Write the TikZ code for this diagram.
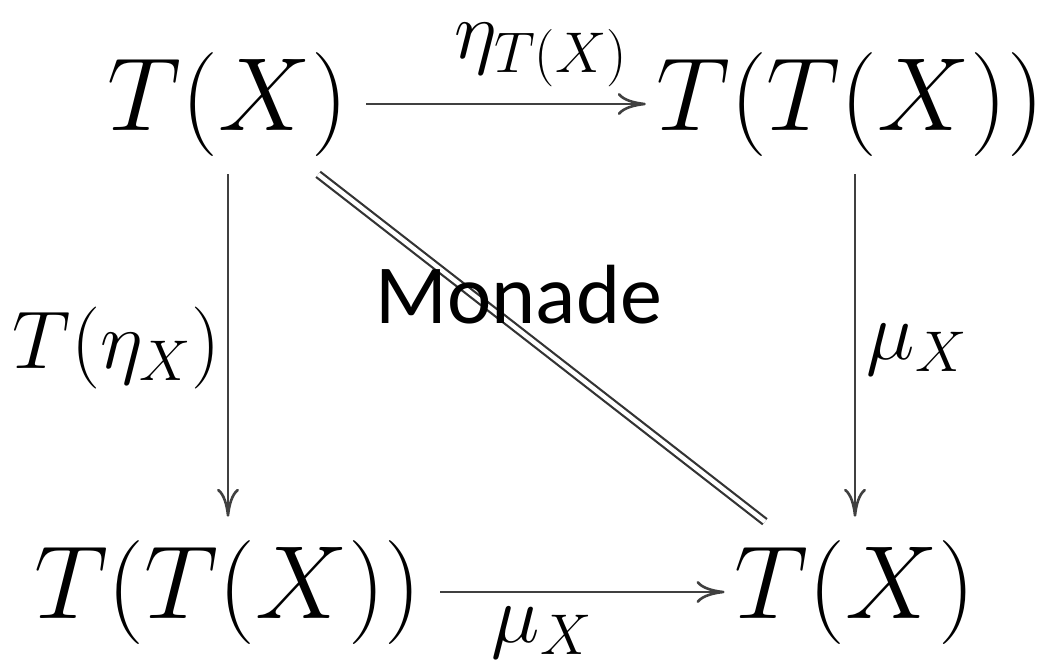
\RequirePackage{fix-cm}
\documentclass[tikz,border=0pt]{standalone}
\usepackage{fontspec}
\newfontfamily\monadefont{Carlito}
\usetikzlibrary{arrows.meta}

\begin{document}
\begin{tikzpicture}[x=0.5pt,y=-0.5pt,
    obj/.style={inner sep=9pt,anchor=base,font=\fontsize{52}{62}\selectfont},
    lbl/.style={inner sep=0pt,anchor=base,font=\fontsize{41}{49}\selectfont},
    map/.style={-{To[length=14pt,width=11pt]},draw=black!75,line width=1.3pt,shorten >=2.5pt},
    hmap/.style={map,shorten >=-4pt},
    eqline/.style={draw=black!80,double,double distance=2.2pt,line width=1.1pt}]
  \useasboundingbox (0,0) rectangle (1053,659);
  % objects
  \node[obj] (tx) at (228,130) {$T(X)$};
  \node[obj] (ttx) at (850,130) {$T(T(X))$};
  \node[obj] (ttxb) at (228,618) {$T(T(X))$};
  \node[obj] (txb) at (855,618) {$T(X)$};
  % arrows
  \draw[hmap] (tx) -- (ttx);
  \draw[map] (tx) -- (ttxb);
  \draw[map] (ttx.south -| txb) -- (txb);
  \draw[hmap] (ttxb) -- (txb);
  \draw[eqline] (tx) -- (txb);
  % labels
  \node[lbl] (etaT) at (541,58) {$\eta_{T(X)}$};
  \node[lbl] (Teta) at (117,368) {$T(\eta_X)$};
  \node[lbl] (muR) at (917,359) {$\mu_X$};
  \node[lbl] (muB) at (542,642) {$\mu_X$};
  \node[inner sep=0pt,anchor=base,font=\monadefont\fontsize{42}{50}\selectfont] (monade) at (519,323) {Monade};
\end{tikzpicture}
\end{document}
